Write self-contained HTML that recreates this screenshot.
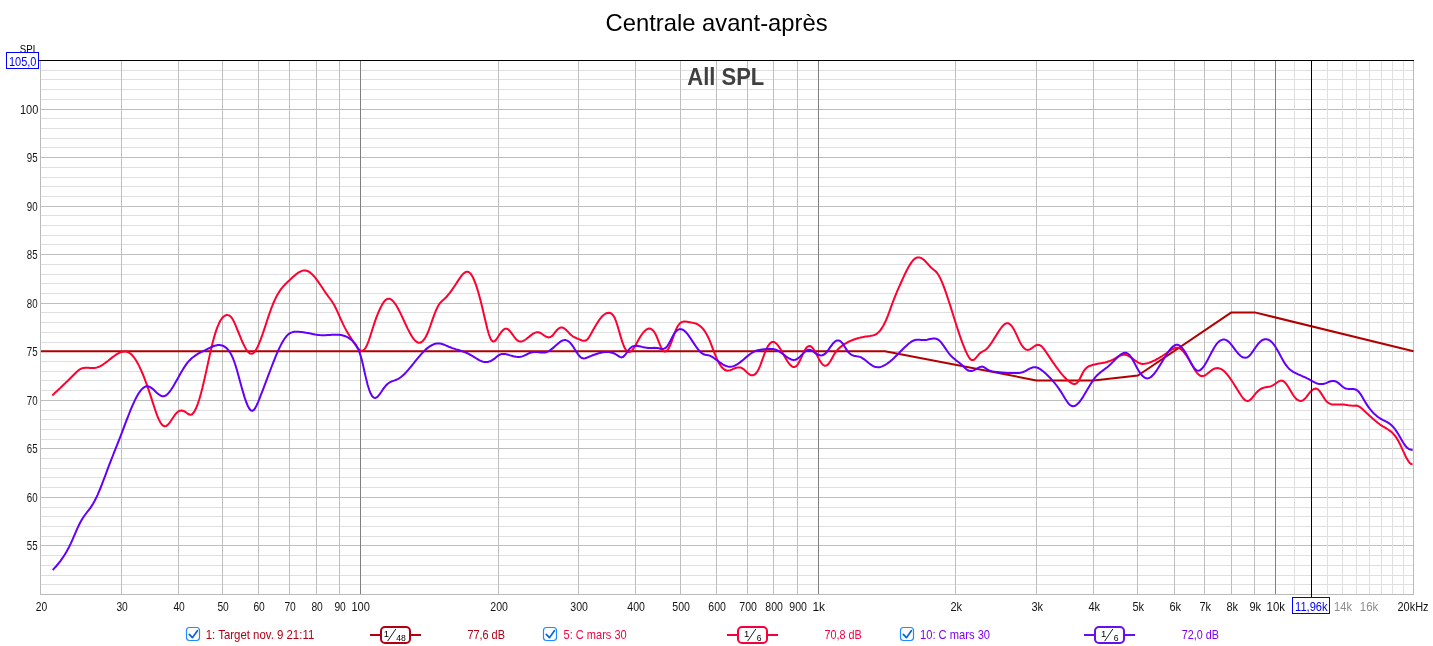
<!DOCTYPE html>
<html lang="fr"><head><meta charset="utf-8"><title>Centrale avant-après</title>
<style>html,body{margin:0;padding:0;background:#fff}body{width:1433px;height:646px;overflow:hidden}svg{display:block}text{font-family:"Liberation Sans", sans-serif}</style></head><body>
<svg width="1433" height="646" viewBox="0 0 1433 646">
<rect width="1433" height="646" fill="#fff"/>
<g shape-rendering="crispEdges"><line x1="41" x2="1414" y1="584.5" y2="584.5" stroke="#dfdfdf"/><line x1="41" x2="1414" y1="575.5" y2="575.5" stroke="#dfdfdf"/><line x1="41" x2="1414" y1="565.5" y2="565.5" stroke="#dfdfdf"/><line x1="41" x2="1414" y1="555.5" y2="555.5" stroke="#dfdfdf"/><line x1="41" x2="1414" y1="545.5" y2="545.5" stroke="#bebebe"/><line x1="41" x2="1414" y1="536.5" y2="536.5" stroke="#dfdfdf"/><line x1="41" x2="1414" y1="526.5" y2="526.5" stroke="#dfdfdf"/><line x1="41" x2="1414" y1="516.5" y2="516.5" stroke="#dfdfdf"/><line x1="41" x2="1414" y1="507.5" y2="507.5" stroke="#dfdfdf"/><line x1="41" x2="1414" y1="497.5" y2="497.5" stroke="#bebebe"/><line x1="41" x2="1414" y1="487.5" y2="487.5" stroke="#dfdfdf"/><line x1="41" x2="1414" y1="477.5" y2="477.5" stroke="#dfdfdf"/><line x1="41" x2="1414" y1="468.5" y2="468.5" stroke="#dfdfdf"/><line x1="41" x2="1414" y1="458.5" y2="458.5" stroke="#dfdfdf"/><line x1="41" x2="1414" y1="448.5" y2="448.5" stroke="#bebebe"/><line x1="41" x2="1414" y1="439.5" y2="439.5" stroke="#dfdfdf"/><line x1="41" x2="1414" y1="429.5" y2="429.5" stroke="#dfdfdf"/><line x1="41" x2="1414" y1="419.5" y2="419.5" stroke="#dfdfdf"/><line x1="41" x2="1414" y1="410.5" y2="410.5" stroke="#dfdfdf"/><line x1="41" x2="1414" y1="400.5" y2="400.5" stroke="#bebebe"/><line x1="41" x2="1414" y1="390.5" y2="390.5" stroke="#dfdfdf"/><line x1="41" x2="1414" y1="380.5" y2="380.5" stroke="#dfdfdf"/><line x1="41" x2="1414" y1="371.5" y2="371.5" stroke="#dfdfdf"/><line x1="41" x2="1414" y1="361.5" y2="361.5" stroke="#dfdfdf"/><line x1="41" x2="1414" y1="351.5" y2="351.5" stroke="#bebebe"/><line x1="41" x2="1414" y1="342.5" y2="342.5" stroke="#dfdfdf"/><line x1="41" x2="1414" y1="332.5" y2="332.5" stroke="#dfdfdf"/><line x1="41" x2="1414" y1="322.5" y2="322.5" stroke="#dfdfdf"/><line x1="41" x2="1414" y1="312.5" y2="312.5" stroke="#dfdfdf"/><line x1="41" x2="1414" y1="303.5" y2="303.5" stroke="#bebebe"/><line x1="41" x2="1414" y1="293.5" y2="293.5" stroke="#dfdfdf"/><line x1="41" x2="1414" y1="283.5" y2="283.5" stroke="#dfdfdf"/><line x1="41" x2="1414" y1="274.5" y2="274.5" stroke="#dfdfdf"/><line x1="41" x2="1414" y1="264.5" y2="264.5" stroke="#dfdfdf"/><line x1="41" x2="1414" y1="254.5" y2="254.5" stroke="#bebebe"/><line x1="41" x2="1414" y1="244.5" y2="244.5" stroke="#dfdfdf"/><line x1="41" x2="1414" y1="235.5" y2="235.5" stroke="#dfdfdf"/><line x1="41" x2="1414" y1="225.5" y2="225.5" stroke="#dfdfdf"/><line x1="41" x2="1414" y1="215.5" y2="215.5" stroke="#dfdfdf"/><line x1="41" x2="1414" y1="206.5" y2="206.5" stroke="#bebebe"/><line x1="41" x2="1414" y1="196.5" y2="196.5" stroke="#dfdfdf"/><line x1="41" x2="1414" y1="186.5" y2="186.5" stroke="#dfdfdf"/><line x1="41" x2="1414" y1="177.5" y2="177.5" stroke="#dfdfdf"/><line x1="41" x2="1414" y1="167.5" y2="167.5" stroke="#dfdfdf"/><line x1="41" x2="1414" y1="157.5" y2="157.5" stroke="#bebebe"/><line x1="41" x2="1414" y1="147.5" y2="147.5" stroke="#dfdfdf"/><line x1="41" x2="1414" y1="138.5" y2="138.5" stroke="#dfdfdf"/><line x1="41" x2="1414" y1="128.5" y2="128.5" stroke="#dfdfdf"/><line x1="41" x2="1414" y1="118.5" y2="118.5" stroke="#dfdfdf"/><line x1="41" x2="1414" y1="109.5" y2="109.5" stroke="#bebebe"/><line x1="41" x2="1414" y1="99.5" y2="99.5" stroke="#dfdfdf"/><line x1="41" x2="1414" y1="89.5" y2="89.5" stroke="#dfdfdf"/><line x1="41" x2="1414" y1="79.5" y2="79.5" stroke="#dfdfdf"/><line x1="41" x2="1414" y1="70.5" y2="70.5" stroke="#dfdfdf"/><line x1="121.5" x2="121.5" y1="61" y2="594" stroke="#bebebe"/><line x1="178.5" x2="178.5" y1="61" y2="594" stroke="#bebebe"/><line x1="222.5" x2="222.5" y1="61" y2="594" stroke="#bebebe"/><line x1="258.5" x2="258.5" y1="61" y2="594" stroke="#bebebe"/><line x1="289.5" x2="289.5" y1="61" y2="594" stroke="#bebebe"/><line x1="316.5" x2="316.5" y1="61" y2="594" stroke="#bebebe"/><line x1="339.5" x2="339.5" y1="61" y2="594" stroke="#bebebe"/><line x1="498.5" x2="498.5" y1="61" y2="594" stroke="#bebebe"/><line x1="578.5" x2="578.5" y1="61" y2="594" stroke="#bebebe"/><line x1="635.5" x2="635.5" y1="61" y2="594" stroke="#bebebe"/><line x1="680.5" x2="680.5" y1="61" y2="594" stroke="#bebebe"/><line x1="716.5" x2="716.5" y1="61" y2="594" stroke="#bebebe"/><line x1="747.5" x2="747.5" y1="61" y2="594" stroke="#bebebe"/><line x1="773.5" x2="773.5" y1="61" y2="594" stroke="#bebebe"/><line x1="797.5" x2="797.5" y1="61" y2="594" stroke="#bebebe"/><line x1="955.5" x2="955.5" y1="61" y2="594" stroke="#bebebe"/><line x1="1036.5" x2="1036.5" y1="61" y2="594" stroke="#bebebe"/><line x1="1093.5" x2="1093.5" y1="61" y2="594" stroke="#bebebe"/><line x1="1137.5" x2="1137.5" y1="61" y2="594" stroke="#bebebe"/><line x1="1174.5" x2="1174.5" y1="61" y2="594" stroke="#bebebe"/><line x1="1204.5" x2="1204.5" y1="61" y2="594" stroke="#bebebe"/><line x1="1231.5" x2="1231.5" y1="61" y2="594" stroke="#bebebe"/><line x1="1254.5" x2="1254.5" y1="61" y2="594" stroke="#bebebe"/><line x1="1294.5" x2="1294.5" y1="61" y2="594" stroke="#dfdfdf"/><line x1="1311.5" x2="1311.5" y1="61" y2="594" stroke="#dfdfdf"/><line x1="1327.5" x2="1327.5" y1="61" y2="594" stroke="#dfdfdf"/><line x1="1342.5" x2="1342.5" y1="61" y2="594" stroke="#dfdfdf"/><line x1="1356.5" x2="1356.5" y1="61" y2="594" stroke="#dfdfdf"/><line x1="1369.5" x2="1369.5" y1="61" y2="594" stroke="#dfdfdf"/><line x1="1381.5" x2="1381.5" y1="61" y2="594" stroke="#dfdfdf"/><line x1="1392.5" x2="1392.5" y1="61" y2="594" stroke="#dfdfdf"/><line x1="1403.5" x2="1403.5" y1="61" y2="594" stroke="#dfdfdf"/><line x1="360.5" x2="360.5" y1="61" y2="594" stroke="#808080"/><line x1="818.5" x2="818.5" y1="61" y2="594" stroke="#808080"/><line x1="1275.5" x2="1275.5" y1="61" y2="594" stroke="#808080"/><line x1="40.5" x2="40.5" y1="61" y2="595" stroke="#bababa"/><line x1="1413.5" x2="1413.5" y1="61" y2="595" stroke="#bababa"/><line x1="40" x2="1414" y1="594.5" y2="594.5" stroke="#bababa"/></g>
<g fill="none" stroke-width="2" stroke-linejoin="round" stroke-linecap="butt">
<path d="M41.0,351.2 884.9,351.2 1036.4,380.4 1093.6,380.4 1138.0,375.5 1231.4,312.4 1254.8,312.4 1413.5,351.2" stroke="#b00000"/>
<path d="M52.3,395.4 53.8,394.0 55.3,392.6 56.8,391.2 58.3,389.8 59.8,388.4 61.3,386.9 62.8,385.5 64.3,384.1 65.8,382.6 67.3,381.2 68.8,379.7 70.3,378.2 71.8,376.7 73.3,375.2 74.8,373.7 76.3,372.2 77.8,370.9 79.3,369.7 80.8,368.9 82.3,368.2 83.8,367.9 85.3,367.7 86.8,367.7 88.3,367.8 89.8,367.9 91.3,368.0 92.8,368.0 94.3,368.0 95.8,367.8 97.3,367.4 98.8,366.8 100.3,366.1 101.8,365.3 103.3,364.3 104.8,363.2 106.3,362.1 107.8,361.0 109.3,359.8 110.8,358.6 112.3,357.4 113.8,356.3 115.3,355.2 116.8,354.2 118.3,353.4 119.8,352.6 121.3,352.1 122.8,351.7 124.3,351.5 125.8,351.6 127.3,351.9 128.8,352.6 130.3,353.5 131.8,354.8 133.3,356.5 134.8,358.5 136.3,360.8 137.8,363.4 139.3,366.4 140.8,369.6 142.3,373.0 143.8,376.7 145.3,380.6 146.8,384.7 148.3,388.9 149.8,393.4 151.3,397.9 152.8,402.6 154.3,407.3 155.8,411.7 157.3,415.8 158.8,419.4 160.3,422.3 161.8,424.4 163.3,425.7 164.8,426.2 166.3,425.9 167.8,424.8 169.3,423.1 170.8,421.0 172.3,418.8 173.8,416.5 175.3,414.4 176.8,412.7 178.3,411.4 179.8,410.7 181.3,410.5 182.8,410.7 184.3,411.3 185.8,412.2 187.3,413.3 188.8,414.3 190.3,414.8 191.8,414.5 193.3,413.1 194.8,410.8 196.3,407.7 197.8,403.8 199.3,399.2 200.8,394.0 202.3,388.3 203.8,382.0 205.3,375.4 206.8,368.6 208.3,361.7 209.8,354.9 211.3,348.3 212.8,342.1 214.3,336.5 215.8,331.6 217.3,327.3 218.8,323.8 220.3,320.8 221.8,318.5 223.3,316.8 224.8,315.7 226.3,315.1 227.8,315.1 229.3,315.5 230.8,316.7 232.3,318.6 233.8,321.4 235.3,324.7 236.8,328.3 238.3,332.0 239.8,335.7 241.3,339.3 242.8,342.8 244.3,345.9 245.8,348.7 247.3,351.0 248.8,352.6 250.3,353.6 251.8,353.8 253.3,353.1 254.8,351.5 256.3,349.3 257.8,346.4 259.3,343.0 260.8,339.2 262.3,335.0 263.8,330.6 265.3,326.1 266.8,321.5 268.3,316.9 269.8,312.5 271.3,308.3 272.8,304.5 274.3,301.0 275.8,297.8 277.3,295.0 278.8,292.4 280.3,290.2 281.8,288.2 283.3,286.4 284.8,284.8 286.3,283.3 287.8,281.8 289.3,280.4 290.8,279.0 292.3,277.5 293.8,276.2 295.3,274.9 296.8,273.7 298.3,272.6 299.8,271.8 301.3,271.1 302.8,270.6 304.3,270.4 305.8,270.5 307.3,271.0 308.8,271.7 310.3,272.7 311.8,274.0 313.3,275.5 314.8,277.2 316.3,279.1 317.8,281.2 319.3,283.3 320.8,285.5 322.3,287.8 323.8,290.0 325.3,292.3 326.8,294.4 328.3,296.5 329.8,298.5 331.3,300.5 332.8,302.8 334.3,305.3 335.8,308.2 337.3,311.4 338.8,314.7 340.3,318.1 341.8,321.4 343.3,324.6 344.8,327.6 346.3,330.4 347.8,333.0 349.3,335.5 350.8,337.9 352.3,340.2 353.8,342.5 355.3,344.8 356.8,347.0 358.3,348.8 359.8,350.1 361.3,350.7 362.8,350.6 364.3,349.5 365.8,347.5 367.3,344.4 368.8,340.5 370.3,336.0 371.8,331.3 373.3,326.5 374.8,321.9 376.3,317.6 377.8,313.8 379.3,310.3 380.8,307.2 382.3,304.4 383.8,302.0 385.3,300.2 386.8,299.1 388.3,298.7 389.8,298.8 391.3,299.6 392.8,300.9 394.3,302.6 395.8,304.7 397.3,307.2 398.8,310.0 400.3,312.9 401.8,316.1 403.3,319.3 404.8,322.5 406.3,325.8 407.8,328.9 409.3,331.8 410.8,334.6 412.3,337.0 413.8,339.1 415.3,340.8 416.8,342.0 418.3,342.7 419.8,342.8 421.3,342.2 422.8,341.0 424.3,339.2 425.8,336.8 427.3,333.8 428.8,330.1 430.3,326.0 431.8,321.6 433.3,317.3 434.8,313.3 436.3,309.7 437.8,306.6 439.3,304.1 440.8,302.2 442.3,300.8 443.8,299.5 445.3,298.1 446.8,296.5 448.3,294.7 449.8,292.9 451.3,290.8 452.8,288.7 454.3,286.5 455.8,284.2 457.3,281.9 458.8,279.6 460.3,277.4 461.8,275.4 463.3,273.7 464.8,272.5 466.3,271.8 467.8,271.8 469.3,272.4 470.8,273.9 472.3,276.2 473.8,279.3 475.3,283.0 476.8,287.4 478.3,292.3 479.8,297.8 481.3,303.6 482.8,309.7 484.3,316.2 485.8,322.6 487.3,328.7 488.8,334.0 490.3,338.2 491.8,340.7 493.3,341.6 494.8,341.0 496.3,339.5 497.8,337.3 499.3,334.9 500.8,332.7 502.3,330.8 503.8,329.4 505.3,328.7 506.8,328.7 508.3,329.5 509.8,330.9 511.3,332.8 512.8,334.9 514.3,337.0 515.8,338.9 517.3,340.3 518.8,341.2 520.3,341.5 521.8,341.4 523.3,340.9 524.8,340.0 526.3,339.0 527.8,337.8 529.3,336.6 530.8,335.4 532.3,334.2 533.8,333.3 535.3,332.6 536.8,332.2 538.3,332.2 539.8,332.7 541.3,333.5 542.8,334.5 544.3,335.6 545.8,336.5 547.3,337.1 548.8,337.4 550.3,337.1 551.8,336.2 553.3,334.7 554.8,332.7 556.3,330.8 557.8,329.2 559.3,328.1 560.8,327.5 562.3,327.5 563.8,328.1 565.3,329.2 566.8,330.6 568.3,332.1 569.8,333.7 571.3,335.2 572.8,336.3 574.3,337.2 575.8,337.8 577.3,338.5 578.8,339.1 580.3,339.8 581.8,340.4 583.3,340.7 584.8,340.7 586.3,340.2 587.8,338.9 589.3,336.8 590.8,334.2 592.3,331.5 593.8,328.8 595.3,326.2 596.8,323.7 598.3,321.4 599.8,319.2 601.3,317.3 602.8,315.7 604.3,314.5 605.8,313.5 607.3,312.9 608.8,312.7 610.3,313.0 611.8,313.8 613.3,315.5 614.8,318.1 616.3,322.0 617.8,326.7 619.3,331.9 620.8,337.1 622.3,341.9 623.8,346.0 625.3,349.0 626.8,351.0 628.3,352.0 629.8,352.0 631.3,351.1 632.8,349.5 634.3,347.3 635.8,344.8 637.3,342.1 638.8,339.3 640.3,336.8 641.8,334.5 643.3,332.5 644.8,330.9 646.3,329.6 647.8,328.8 649.3,328.5 650.8,328.8 652.3,329.8 653.8,331.4 655.3,333.7 656.8,336.8 658.3,340.6 659.8,344.4 661.3,347.8 662.8,350.2 664.3,351.4 665.8,351.4 667.3,350.3 668.8,348.1 670.3,345.0 671.8,341.1 673.3,336.8 674.8,332.6 676.3,328.9 677.8,326.0 679.3,324.0 680.8,322.6 682.3,321.9 683.8,321.6 685.3,321.6 686.8,321.8 688.3,322.0 689.8,322.2 691.3,322.5 692.8,322.7 694.3,323.1 695.8,323.5 697.3,324.2 698.8,325.1 700.3,326.2 701.8,327.5 703.3,329.2 704.8,331.3 706.3,333.7 707.8,336.5 709.3,339.7 710.8,343.4 712.3,347.3 713.8,351.3 715.3,355.2 716.8,358.7 718.3,361.7 719.8,364.4 721.3,366.5 722.8,368.3 724.3,369.5 725.8,370.3 727.3,370.7 728.8,370.6 730.3,370.2 731.8,369.6 733.3,368.9 734.8,368.3 736.3,367.8 737.8,367.4 739.3,367.4 740.8,367.6 742.3,368.3 743.8,369.3 745.3,370.7 746.8,372.2 748.3,373.5 749.8,374.6 751.3,375.3 752.8,375.3 754.3,374.8 755.8,373.6 757.3,371.7 758.8,368.9 760.3,365.3 761.8,361.2 763.3,357.0 764.8,352.9 766.3,349.3 767.8,346.4 769.3,344.2 770.8,342.7 772.3,341.9 773.8,341.9 775.3,342.7 776.8,344.0 778.3,345.9 779.8,348.1 781.3,350.6 782.8,353.2 784.3,355.9 785.8,358.6 787.3,361.0 788.8,363.2 790.3,365.0 791.8,366.3 793.3,367.0 794.8,366.9 796.3,366.1 797.8,364.3 799.3,361.7 800.8,358.6 802.3,355.3 803.8,352.1 805.3,349.4 806.8,347.3 808.3,346.2 809.8,346.0 811.3,346.7 812.8,348.2 814.3,350.4 815.8,353.0 817.3,355.9 818.8,358.8 820.3,361.4 821.8,363.6 823.3,365.1 824.8,365.7 826.3,365.6 827.8,364.6 829.3,362.8 830.8,360.5 832.3,357.8 833.8,355.0 835.3,352.6 836.8,350.6 838.3,349.0 839.8,347.6 841.3,346.4 842.8,345.2 844.3,344.2 845.8,343.3 847.3,342.5 848.8,341.7 850.3,341.0 851.8,340.4 853.3,339.8 854.8,339.2 856.3,338.7 857.8,338.3 859.3,337.9 860.8,337.5 862.3,337.2 863.8,336.9 865.3,336.6 866.8,336.4 868.3,336.2 869.8,336.0 871.3,335.7 872.8,335.4 874.3,335.0 875.8,334.3 877.3,333.3 878.8,332.0 880.3,330.3 881.8,328.2 883.3,325.7 884.8,322.8 886.3,319.5 887.8,315.8 889.3,311.8 890.8,307.6 892.3,303.5 893.8,299.6 895.3,295.8 896.8,292.2 898.3,288.7 899.8,285.3 901.3,282.0 902.8,278.6 904.3,275.4 905.8,272.3 907.3,269.3 908.8,266.5 910.3,264.1 911.8,261.9 913.3,260.1 914.8,258.7 916.3,257.8 917.8,257.4 919.3,257.4 920.8,257.9 922.3,258.7 923.8,259.8 925.3,261.3 926.8,262.9 928.3,264.5 929.8,266.2 931.3,267.7 932.8,269.0 934.3,270.2 935.8,271.5 937.3,273.2 938.8,275.5 940.3,278.4 941.8,281.7 943.3,285.4 944.8,289.4 946.3,293.7 947.8,298.2 949.3,302.8 950.8,307.4 952.3,312.2 953.8,317.0 955.3,321.8 956.8,326.5 958.3,331.1 959.8,335.6 961.3,339.8 962.8,343.9 964.3,347.7 965.8,351.3 967.3,354.4 968.8,357.1 970.3,359.1 971.8,360.1 973.3,360.1 974.8,359.0 976.3,357.4 977.8,355.6 979.3,353.8 980.8,352.6 982.3,351.7 983.8,350.9 985.3,350.0 986.8,348.7 988.3,347.1 989.8,345.2 991.3,343.1 992.8,340.8 994.3,338.4 995.8,336.0 997.3,333.6 998.8,331.3 1000.3,329.0 1001.8,327.0 1003.3,325.3 1004.8,324.1 1006.3,323.3 1007.8,323.2 1009.3,323.8 1010.8,325.0 1012.3,326.8 1013.8,329.2 1015.3,332.1 1016.8,335.3 1018.3,338.7 1019.8,341.9 1021.3,344.6 1022.8,346.8 1024.3,348.4 1025.8,349.5 1027.3,349.9 1028.8,349.8 1030.3,349.1 1031.8,348.1 1033.3,347.0 1034.8,346.0 1036.3,345.2 1037.8,344.8 1039.3,344.9 1040.8,345.8 1042.3,347.1 1043.8,348.8 1045.3,350.9 1046.8,353.1 1048.3,355.4 1049.8,357.6 1051.3,359.9 1052.8,362.1 1054.3,364.2 1055.8,366.4 1057.3,368.4 1058.8,370.4 1060.3,372.3 1061.8,374.1 1063.3,375.9 1064.8,377.5 1066.3,379.0 1067.8,380.3 1069.3,381.6 1070.8,382.7 1072.3,383.5 1073.8,384.0 1075.3,383.9 1076.8,383.1 1078.3,381.4 1079.8,378.8 1081.3,375.7 1082.8,372.7 1084.3,370.3 1085.8,368.5 1087.3,367.2 1088.8,366.3 1090.3,365.7 1091.8,365.2 1093.3,364.7 1094.8,364.4 1096.3,364.1 1097.8,363.8 1099.3,363.5 1100.8,363.2 1102.3,363.0 1103.8,362.7 1105.3,362.4 1106.8,362.0 1108.3,361.5 1109.8,361.0 1111.3,360.4 1112.8,359.7 1114.3,358.9 1115.8,358.0 1117.3,357.1 1118.8,356.3 1120.3,355.6 1121.8,355.1 1123.3,354.8 1124.8,354.8 1126.3,355.1 1127.8,355.6 1129.3,356.4 1130.8,357.3 1132.3,358.4 1133.8,359.5 1135.3,360.7 1136.8,361.7 1138.3,362.6 1139.8,363.3 1141.3,363.7 1142.8,363.9 1144.3,363.8 1145.8,363.6 1147.3,363.3 1148.8,362.9 1150.3,362.3 1151.8,361.7 1153.3,361.0 1154.8,360.3 1156.3,359.5 1157.8,358.7 1159.3,357.8 1160.8,356.9 1162.3,356.0 1163.8,355.0 1165.3,354.0 1166.8,353.0 1168.3,351.9 1169.8,350.9 1171.3,349.9 1172.8,349.0 1174.3,348.3 1175.8,347.8 1177.3,347.7 1178.8,348.0 1180.3,348.7 1181.8,349.9 1183.3,351.5 1184.8,353.4 1186.3,355.5 1187.8,357.8 1189.3,360.3 1190.8,362.9 1192.3,365.5 1193.8,368.1 1195.3,370.4 1196.8,372.6 1198.3,374.3 1199.8,375.5 1201.3,376.1 1202.8,376.1 1204.3,375.7 1205.8,374.8 1207.3,373.7 1208.8,372.5 1210.3,371.2 1211.8,370.1 1213.3,369.2 1214.8,368.5 1216.3,368.2 1217.8,368.1 1219.3,368.4 1220.8,368.9 1222.3,369.8 1223.8,370.9 1225.3,372.3 1226.8,374.0 1228.3,375.8 1229.8,377.9 1231.3,380.1 1232.8,382.3 1234.3,384.7 1235.8,387.1 1237.3,389.5 1238.8,391.9 1240.3,394.3 1241.8,396.5 1243.3,398.4 1244.8,399.8 1246.3,400.8 1247.8,401.0 1249.3,400.5 1250.8,399.3 1252.3,397.7 1253.8,395.9 1255.3,393.9 1256.8,392.2 1258.3,390.7 1259.8,389.6 1261.3,388.7 1262.8,388.0 1264.3,387.6 1265.8,387.3 1267.3,387.0 1268.8,386.7 1270.3,386.4 1271.8,385.9 1273.3,385.1 1274.8,384.2 1276.3,383.0 1277.8,382.0 1279.3,381.1 1280.8,380.6 1282.3,380.7 1283.8,381.5 1285.3,382.8 1286.8,384.7 1288.3,387.0 1289.8,389.5 1291.3,392.0 1292.8,394.5 1294.3,396.7 1295.8,398.4 1297.3,399.7 1298.8,400.6 1300.3,400.9 1301.8,400.8 1303.3,400.1 1304.8,398.8 1306.3,397.1 1307.8,395.1 1309.3,393.2 1310.8,391.4 1312.3,390.0 1313.8,389.0 1315.3,388.6 1316.8,388.8 1318.3,389.7 1319.8,391.4 1321.3,393.6 1322.8,396.0 1324.3,398.4 1325.8,400.5 1327.3,402.0 1328.8,403.2 1330.3,403.9 1331.8,404.4 1333.3,404.6 1334.8,404.6 1336.3,404.6 1337.8,404.6 1339.3,404.5 1340.8,404.5 1342.3,404.5 1343.8,404.5 1345.3,404.7 1346.8,404.9 1348.3,405.2 1349.8,405.4 1351.3,405.6 1352.8,405.7 1354.3,405.7 1355.8,405.6 1357.3,405.8 1358.8,406.4 1360.3,407.3 1361.8,408.5 1363.3,409.9 1364.8,411.3 1366.3,412.7 1367.8,414.1 1369.3,415.5 1370.8,416.8 1372.3,418.2 1373.8,419.5 1375.3,420.8 1376.8,422.0 1378.3,423.2 1379.8,424.3 1381.3,425.3 1382.8,426.3 1384.3,427.2 1385.8,428.1 1387.3,429.0 1388.8,430.0 1390.3,431.1 1391.8,432.3 1393.3,433.8 1394.8,435.6 1396.3,437.6 1397.8,440.0 1399.3,442.7 1400.8,445.8 1402.3,449.1 1403.8,452.4 1405.3,455.7 1406.8,458.6 1408.3,461.1 1409.8,463.0 1411.3,464.1 1412.6,464.2" stroke="#ff0030"/>
<path d="M52.7,570.0 54.2,568.4 55.7,566.8 57.2,565.0 58.7,563.2 60.2,561.3 61.7,559.2 63.2,557.0 64.7,554.7 66.2,552.2 67.7,549.5 69.2,546.7 70.7,543.6 72.2,540.3 73.7,536.9 75.2,533.4 76.7,529.9 78.2,526.6 79.7,523.5 81.2,520.7 82.7,518.2 84.2,516.0 85.7,514.0 87.2,512.0 88.7,510.1 90.2,508.1 91.7,505.9 93.2,503.5 94.7,500.8 96.2,497.8 97.7,494.6 99.2,491.1 100.7,487.5 102.2,483.7 103.7,479.7 105.2,475.8 106.7,471.7 108.2,467.7 109.7,463.7 111.2,459.8 112.7,456.0 114.2,452.2 115.7,448.4 117.2,444.6 118.7,440.9 120.2,437.0 121.7,433.1 123.2,429.2 124.7,425.2 126.2,421.2 127.7,417.3 129.2,413.5 130.7,409.7 132.2,406.2 133.7,402.8 135.2,399.6 136.7,396.7 138.2,394.1 139.7,391.8 141.2,389.9 142.7,388.4 144.2,387.2 145.7,386.5 147.2,386.2 148.7,386.4 150.2,387.1 151.7,388.1 153.2,389.3 154.7,390.7 156.2,392.2 157.7,393.5 159.2,394.7 160.7,395.6 162.2,396.2 163.7,396.3 165.2,395.8 166.7,394.8 168.2,393.4 169.7,391.6 171.2,389.5 172.7,387.2 174.2,384.7 175.7,382.1 177.2,379.4 178.7,376.7 180.2,374.1 181.7,371.4 183.2,368.9 184.7,366.6 186.2,364.4 187.7,362.4 189.2,360.7 190.7,359.2 192.2,357.8 193.7,356.7 195.2,355.6 196.7,354.6 198.2,353.7 199.7,352.9 201.2,352.1 202.7,351.4 204.2,350.7 205.7,349.9 207.2,349.2 208.7,348.4 210.2,347.7 211.7,347.0 213.2,346.3 214.7,345.8 216.2,345.4 217.7,345.1 219.2,345.0 220.7,345.2 222.2,345.5 223.7,346.2 225.2,347.1 226.7,348.3 228.2,349.9 229.7,351.9 231.2,354.5 232.7,357.6 234.2,361.5 235.7,366.0 237.2,371.0 238.7,376.4 240.2,381.9 241.7,387.4 243.2,392.6 244.7,397.6 246.2,402.0 247.7,405.7 249.2,408.5 250.7,410.3 252.2,410.9 253.7,410.1 255.2,408.1 256.7,405.2 258.2,401.8 259.7,398.1 261.2,394.2 262.7,390.3 264.2,386.4 265.7,382.4 267.2,378.4 268.7,374.4 270.2,370.5 271.7,366.5 273.2,362.7 274.7,358.9 276.2,355.2 277.7,351.7 279.2,348.4 280.7,345.4 282.2,342.5 283.7,340.0 285.2,337.8 286.7,335.9 288.2,334.4 289.7,333.4 291.2,332.6 292.7,332.1 294.2,331.8 295.7,331.7 297.2,331.7 298.7,331.8 300.2,331.9 301.7,332.1 303.2,332.3 304.7,332.5 306.2,332.8 307.7,333.0 309.2,333.3 310.7,333.6 312.2,333.9 313.7,334.2 315.2,334.5 316.7,334.7 318.2,334.9 319.7,335.1 321.2,335.2 322.7,335.2 324.2,335.2 325.7,335.2 327.2,335.1 328.7,335.0 330.2,334.9 331.7,334.8 333.2,334.7 334.7,334.7 336.2,334.7 337.7,334.7 339.2,334.8 340.7,335.0 342.2,335.3 343.7,335.7 345.2,336.2 346.7,336.9 348.2,337.6 349.7,338.6 351.2,339.8 352.7,341.1 354.2,342.7 355.7,344.6 357.2,347.0 358.7,350.2 360.2,354.4 361.7,359.6 363.2,365.8 364.7,372.6 366.2,379.1 367.7,385.0 369.2,389.8 370.7,393.6 372.2,396.2 373.7,397.6 375.2,398.0 376.7,397.4 378.2,396.0 379.7,394.1 381.2,392.0 382.7,389.7 384.2,387.6 385.7,385.8 387.2,384.2 388.7,383.0 390.2,382.1 391.7,381.4 393.2,380.9 394.7,380.4 396.2,379.8 397.7,379.1 399.2,378.3 400.7,377.2 402.2,376.0 403.7,374.7 405.2,373.2 406.7,371.6 408.2,369.9 409.7,368.1 411.2,366.3 412.7,364.5 414.2,362.6 415.7,360.7 417.2,358.9 418.7,357.1 420.2,355.3 421.7,353.6 423.2,352.0 424.7,350.5 426.2,349.1 427.7,347.9 429.2,346.7 430.7,345.8 432.2,345.0 433.7,344.3 435.2,343.8 436.7,343.5 438.2,343.4 439.7,343.5 441.2,343.8 442.7,344.2 444.2,344.7 445.7,345.4 447.2,346.0 448.7,346.7 450.2,347.3 451.7,347.9 453.2,348.4 454.7,348.9 456.2,349.4 457.7,349.8 459.2,350.3 460.7,350.8 462.2,351.3 463.7,351.8 465.2,352.4 466.7,353.0 468.2,353.7 469.7,354.5 471.2,355.3 472.7,356.2 474.2,357.1 475.7,358.0 477.2,359.0 478.7,359.8 480.2,360.6 481.7,361.3 483.2,361.7 484.7,362.0 486.2,362.1 487.7,361.9 489.2,361.6 490.7,361.0 492.2,360.2 493.7,359.2 495.2,358.1 496.7,356.8 498.2,355.6 499.7,354.7 501.2,354.1 502.7,353.9 504.2,353.9 505.7,354.1 507.2,354.5 508.7,354.9 510.2,355.4 511.7,355.8 513.2,356.2 514.7,356.6 516.2,356.8 517.7,356.9 519.2,356.9 520.7,356.8 522.2,356.4 523.7,355.9 525.2,355.2 526.7,354.5 528.2,353.7 529.7,353.0 531.2,352.5 532.7,352.2 534.2,352.0 535.7,352.0 537.2,352.1 538.7,352.3 540.2,352.5 541.7,352.6 543.2,352.6 544.7,352.5 546.2,352.2 547.7,351.6 549.2,350.8 550.7,349.8 552.2,348.6 553.7,347.4 555.2,346.0 556.7,344.7 558.2,343.4 559.7,342.2 561.2,341.2 562.7,340.5 564.2,340.1 565.7,340.1 567.2,340.6 568.7,341.5 570.2,342.8 571.7,344.6 573.2,346.8 574.7,349.2 576.2,351.6 577.7,353.8 579.2,355.8 580.7,357.3 582.2,358.1 583.7,358.4 585.2,358.2 586.7,357.7 588.2,357.1 589.7,356.5 591.2,355.9 592.7,355.3 594.2,354.7 595.7,354.2 597.2,353.7 598.7,353.3 600.2,352.9 601.7,352.6 603.2,352.3 604.7,352.1 606.2,352.0 607.7,352.0 609.2,352.1 610.7,352.4 612.2,352.7 613.7,353.2 615.2,354.0 616.7,354.9 618.2,355.9 619.7,356.9 621.2,357.4 622.7,357.1 624.2,355.9 625.7,354.1 627.2,352.0 628.7,349.9 630.2,348.2 631.7,346.9 633.2,346.2 634.7,345.9 636.2,345.8 637.7,345.9 639.2,346.2 640.7,346.5 642.2,346.9 643.7,347.2 645.2,347.6 646.7,347.8 648.2,348.0 649.7,348.0 651.2,348.0 652.7,347.9 654.2,347.8 655.7,347.9 657.2,348.0 658.7,348.3 660.2,348.7 661.7,348.9 663.2,348.9 664.7,348.4 666.2,347.4 667.7,345.6 669.2,343.1 670.7,340.2 672.2,337.2 673.7,334.4 675.2,332.2 676.7,330.7 678.2,329.6 679.7,329.1 681.2,329.2 682.7,329.7 684.2,330.6 685.7,332.0 687.2,333.7 688.7,335.7 690.2,337.8 691.7,340.1 693.2,342.4 694.7,344.6 696.2,346.8 697.7,348.8 699.2,350.6 700.7,352.2 702.2,353.4 703.7,354.3 705.2,354.8 706.7,355.0 708.2,355.2 709.7,355.6 711.2,356.3 712.7,357.2 714.2,358.3 715.7,359.4 717.2,360.5 718.7,361.6 720.2,362.7 721.7,363.7 723.2,364.6 724.7,365.4 726.2,366.0 727.7,366.4 729.2,366.7 730.7,366.7 732.2,366.5 733.7,366.1 735.2,365.4 736.7,364.6 738.2,363.7 739.7,362.6 741.2,361.4 742.7,360.2 744.2,358.9 745.7,357.6 747.2,356.4 748.7,355.1 750.2,354.0 751.7,353.0 753.2,352.1 754.7,351.4 756.2,350.8 757.7,350.3 759.2,350.0 760.7,349.7 762.2,349.5 763.7,349.3 765.2,349.2 766.7,349.1 768.2,349.0 769.7,349.0 771.2,349.0 772.7,349.1 774.2,349.3 775.7,349.7 777.2,350.3 778.7,351.1 780.2,352.1 781.7,353.1 783.2,354.3 784.7,355.4 786.2,356.6 787.7,357.6 789.2,358.5 790.7,359.2 792.2,359.7 793.7,359.9 795.2,359.7 796.7,359.2 798.2,358.2 799.7,356.9 801.2,355.4 802.7,353.9 804.2,352.4 805.7,351.1 807.2,350.2 808.7,349.8 810.2,349.9 811.7,350.6 813.2,351.5 814.7,352.6 816.2,353.7 817.7,354.5 819.2,355.1 820.7,355.4 822.2,355.3 823.7,354.7 825.2,353.7 826.7,352.1 828.2,350.1 829.7,347.9 831.2,345.8 832.7,343.8 834.2,342.2 835.7,341.0 837.2,340.4 838.7,340.4 840.2,341.1 841.7,342.4 843.2,344.4 844.7,346.8 846.2,349.1 847.7,351.3 849.2,353.0 850.7,354.3 852.2,355.1 853.7,355.7 855.2,356.0 856.7,356.3 858.2,356.5 859.7,356.9 861.2,357.4 862.7,358.3 864.2,359.3 865.7,360.5 867.2,361.7 868.7,363.0 870.2,364.2 871.7,365.2 873.2,366.1 874.7,366.7 876.2,367.1 877.7,367.3 879.2,367.2 880.7,366.9 882.2,366.4 883.7,365.7 885.2,364.9 886.7,364.0 888.2,362.9 889.7,361.8 891.2,360.5 892.7,359.2 894.2,357.8 895.7,356.3 897.2,354.9 898.7,353.4 900.2,351.8 901.7,350.3 903.2,348.8 904.7,347.3 906.2,345.9 907.7,344.5 909.2,343.3 910.7,342.2 912.2,341.2 913.7,340.5 915.2,340.0 916.7,339.8 918.2,339.7 919.7,339.8 921.2,339.9 922.7,340.0 924.2,340.0 925.7,339.9 927.2,339.7 928.7,339.3 930.2,339.0 931.7,338.7 933.2,338.5 934.7,338.5 936.2,338.8 937.7,339.4 939.2,340.4 940.7,341.9 942.2,343.8 943.7,345.9 945.2,348.1 946.7,350.3 948.2,352.5 949.7,354.4 951.2,356.1 952.7,357.5 954.2,358.8 955.7,360.1 957.2,361.2 958.7,362.3 960.2,363.5 961.7,364.8 963.2,366.3 964.7,367.7 966.2,369.1 967.7,370.2 969.2,370.8 970.7,371.1 972.2,370.9 973.7,370.4 975.2,369.7 976.7,368.8 978.2,367.8 979.7,367.1 981.2,366.6 982.7,366.7 984.2,367.4 985.7,368.4 987.2,369.4 988.7,370.2 990.2,370.8 991.7,371.2 993.2,371.5 994.7,371.7 996.2,372.0 997.7,372.1 999.2,372.3 1000.7,372.5 1002.2,372.6 1003.7,372.7 1005.2,372.8 1006.7,372.9 1008.2,373.0 1009.7,373.0 1011.2,373.0 1012.7,373.1 1014.2,373.1 1015.7,373.1 1017.2,373.0 1018.7,372.9 1020.2,372.7 1021.7,372.4 1023.2,372.0 1024.7,371.3 1026.2,370.6 1027.7,369.7 1029.2,368.9 1030.7,368.2 1032.2,367.6 1033.7,367.3 1035.2,367.2 1036.7,367.5 1038.2,368.0 1039.7,368.8 1041.2,369.9 1042.7,371.0 1044.2,372.3 1045.7,373.6 1047.2,375.0 1048.7,376.5 1050.2,378.0 1051.7,379.6 1053.2,381.3 1054.7,383.1 1056.2,385.0 1057.7,387.0 1059.2,389.1 1060.7,391.4 1062.2,393.7 1063.7,396.2 1065.2,398.7 1066.7,401.0 1068.2,403.1 1069.7,404.7 1071.2,405.8 1072.7,406.3 1074.2,406.1 1075.7,405.5 1077.2,404.3 1078.7,402.8 1080.2,401.0 1081.7,398.9 1083.2,396.6 1084.7,394.1 1086.2,391.6 1087.7,389.0 1089.2,386.5 1090.7,384.0 1092.2,381.6 1093.7,379.4 1095.2,377.4 1096.7,375.7 1098.2,374.2 1099.7,372.9 1101.2,371.7 1102.7,370.6 1104.2,369.5 1105.7,368.4 1107.2,367.3 1108.7,366.0 1110.2,364.6 1111.7,363.1 1113.2,361.6 1114.7,360.0 1116.2,358.5 1117.7,357.0 1119.2,355.7 1120.7,354.5 1122.2,353.6 1123.7,353.0 1125.2,352.8 1126.7,353.1 1128.2,353.9 1129.7,355.3 1131.2,357.3 1132.7,359.7 1134.2,362.5 1135.7,365.4 1137.2,368.2 1138.7,370.8 1140.2,373.1 1141.7,375.0 1143.2,376.5 1144.7,377.6 1146.2,378.3 1147.7,378.4 1149.2,378.0 1150.7,377.1 1152.2,375.9 1153.7,374.3 1155.2,372.4 1156.7,370.3 1158.2,368.0 1159.7,365.6 1161.2,363.2 1162.7,360.7 1164.2,358.2 1165.7,355.8 1167.2,353.5 1168.7,351.4 1170.2,349.4 1171.7,347.7 1173.2,346.3 1174.7,345.3 1176.2,344.8 1177.7,344.8 1179.2,345.4 1180.7,346.5 1182.2,348.0 1183.7,350.0 1185.2,352.3 1186.7,354.8 1188.2,357.6 1189.7,360.4 1191.2,363.2 1192.7,365.8 1194.2,368.1 1195.7,369.7 1197.2,370.6 1198.7,370.7 1200.2,370.1 1201.7,368.9 1203.2,367.2 1204.7,365.0 1206.2,362.5 1207.7,359.8 1209.2,356.9 1210.7,354.0 1212.2,351.2 1213.7,348.5 1215.2,346.0 1216.7,343.9 1218.2,342.2 1219.7,340.9 1221.2,340.1 1222.7,339.6 1224.2,339.5 1225.7,339.9 1227.2,340.6 1228.7,341.8 1230.2,343.3 1231.7,345.1 1233.2,347.1 1234.7,349.1 1236.2,351.1 1237.7,353.0 1239.2,354.6 1240.7,356.0 1242.2,357.0 1243.7,357.6 1245.2,357.8 1246.7,357.5 1248.2,356.8 1249.7,355.5 1251.2,353.7 1252.7,351.6 1254.2,349.4 1255.7,347.2 1257.2,345.1 1258.7,343.2 1260.2,341.7 1261.7,340.5 1263.2,339.7 1264.7,339.3 1266.2,339.2 1267.7,339.5 1269.2,340.2 1270.7,341.2 1272.2,342.6 1273.7,344.3 1275.2,346.4 1276.7,348.9 1278.2,351.5 1279.7,354.3 1281.2,357.1 1282.7,359.8 1284.2,362.4 1285.7,364.7 1287.2,366.7 1288.7,368.4 1290.2,369.7 1291.7,370.8 1293.2,371.8 1294.7,372.6 1296.2,373.3 1297.7,374.1 1299.2,374.8 1300.7,375.4 1302.2,376.1 1303.7,376.8 1305.2,377.4 1306.7,378.2 1308.2,378.9 1309.7,379.7 1311.2,380.5 1312.7,381.4 1314.2,382.2 1315.7,382.9 1317.2,383.5 1318.7,383.9 1320.2,384.1 1321.7,384.1 1323.2,383.9 1324.7,383.6 1326.2,383.1 1327.7,382.4 1329.2,381.8 1330.7,381.3 1332.2,381.1 1333.7,381.0 1335.2,381.3 1336.7,381.9 1338.2,382.9 1339.7,384.1 1341.2,385.4 1342.7,386.7 1344.2,387.8 1345.7,388.5 1347.2,388.8 1348.7,389.0 1350.2,389.0 1351.7,389.0 1353.2,389.0 1354.7,389.2 1356.2,389.8 1357.7,390.7 1359.2,392.3 1360.7,394.4 1362.2,396.8 1363.7,399.4 1365.2,402.0 1366.7,404.4 1368.2,406.6 1369.7,408.6 1371.2,410.5 1372.7,412.2 1374.2,413.7 1375.7,415.1 1377.2,416.4 1378.7,417.5 1380.2,418.5 1381.7,419.3 1383.2,420.1 1384.7,420.8 1386.2,421.6 1387.7,422.4 1389.2,423.4 1390.7,424.5 1392.2,425.9 1393.7,427.5 1395.2,429.4 1396.7,431.6 1398.2,434.0 1399.7,436.6 1401.2,439.2 1402.7,441.8 1404.2,444.2 1405.7,446.3 1407.2,447.8 1408.7,448.9 1410.2,449.5 1411.7,449.9 1412.6,450.2" stroke="#6400fa"/>
</g>
<g shape-rendering="crispEdges"><line x1="1311.5" x2="1311.5" y1="60" y2="597" stroke="#000"/>
<line x1="39" x2="1414" y1="60.5" y2="60.5" stroke="#000"/></g>
<text x="19.80" y="52.8" font-size="10.8" fill="#000" textLength="18.28" lengthAdjust="spacingAndGlyphs">SPL</text>
<g shape-rendering="crispEdges" fill="#fff" stroke="#0000ff"><rect x="6.5" y="52.5" width="32" height="16"/><rect x="1292.5" y="597.5" width="37" height="16"/></g>
<text x="605.51" y="30.5" font-size="24" fill="#000" textLength="222.11" lengthAdjust="spacingAndGlyphs">Centrale avant-après</text>
<text x="687.30" y="85.3" font-size="24" font-weight="bold" fill="#404040" textLength="77.01" lengthAdjust="spacingAndGlyphs">All SPL</text>
<text x="8.93" y="66.0" font-size="12.6" fill="#0000ff" textLength="27.52" lengthAdjust="spacingAndGlyphs">105,0</text>
<text x="26.80" y="550.0" font-size="12.6" fill="#141414" textLength="10.81" lengthAdjust="spacingAndGlyphs">55</text>
<text x="26.80" y="502.0" font-size="12.6" fill="#141414" textLength="10.81" lengthAdjust="spacingAndGlyphs">60</text>
<text x="26.80" y="453.0" font-size="12.6" fill="#141414" textLength="10.81" lengthAdjust="spacingAndGlyphs">65</text>
<text x="26.80" y="405.0" font-size="12.6" fill="#141414" textLength="10.81" lengthAdjust="spacingAndGlyphs">70</text>
<text x="26.80" y="356.0" font-size="12.6" fill="#141414" textLength="10.81" lengthAdjust="spacingAndGlyphs">75</text>
<text x="26.80" y="308.0" font-size="12.6" fill="#141414" textLength="10.81" lengthAdjust="spacingAndGlyphs">80</text>
<text x="26.80" y="259.0" font-size="12.6" fill="#141414" textLength="10.81" lengthAdjust="spacingAndGlyphs">85</text>
<text x="26.80" y="211.0" font-size="12.6" fill="#141414" textLength="10.81" lengthAdjust="spacingAndGlyphs">90</text>
<text x="26.80" y="162.0" font-size="12.6" fill="#141414" textLength="10.81" lengthAdjust="spacingAndGlyphs">95</text>
<text x="19.93" y="114.0" font-size="12.6" fill="#141414" textLength="18.39" lengthAdjust="spacingAndGlyphs">100</text>
<text x="35.80" y="611.0" font-size="12.6" fill="#141414" textLength="11.41" lengthAdjust="spacingAndGlyphs">20</text>
<text x="116.40" y="611.0" font-size="12.6" fill="#141414" textLength="11.41" lengthAdjust="spacingAndGlyphs">30</text>
<text x="173.40" y="611.0" font-size="12.6" fill="#141414" textLength="11.41" lengthAdjust="spacingAndGlyphs">40</text>
<text x="217.40" y="611.0" font-size="12.6" fill="#141414" textLength="11.41" lengthAdjust="spacingAndGlyphs">50</text>
<text x="253.40" y="611.0" font-size="12.6" fill="#141414" textLength="11.41" lengthAdjust="spacingAndGlyphs">60</text>
<text x="284.40" y="611.0" font-size="12.6" fill="#141414" textLength="11.41" lengthAdjust="spacingAndGlyphs">70</text>
<text x="311.40" y="611.0" font-size="12.6" fill="#141414" textLength="11.41" lengthAdjust="spacingAndGlyphs">80</text>
<text x="334.40" y="611.0" font-size="12.6" fill="#141414" textLength="11.41" lengthAdjust="spacingAndGlyphs">90</text>
<text x="351.42" y="611.0" font-size="12.6" fill="#141414" textLength="18.49" lengthAdjust="spacingAndGlyphs">100</text>
<text x="490.30" y="611.0" font-size="12.6" fill="#141414" textLength="17.61" lengthAdjust="spacingAndGlyphs">200</text>
<text x="570.30" y="611.0" font-size="12.6" fill="#141414" textLength="17.61" lengthAdjust="spacingAndGlyphs">300</text>
<text x="627.30" y="611.0" font-size="12.6" fill="#141414" textLength="17.61" lengthAdjust="spacingAndGlyphs">400</text>
<text x="672.30" y="611.0" font-size="12.6" fill="#141414" textLength="17.61" lengthAdjust="spacingAndGlyphs">500</text>
<text x="708.30" y="611.0" font-size="12.6" fill="#141414" textLength="17.61" lengthAdjust="spacingAndGlyphs">600</text>
<text x="739.30" y="611.0" font-size="12.6" fill="#141414" textLength="17.61" lengthAdjust="spacingAndGlyphs">700</text>
<text x="765.30" y="611.0" font-size="12.6" fill="#141414" textLength="17.61" lengthAdjust="spacingAndGlyphs">800</text>
<text x="789.30" y="611.0" font-size="12.6" fill="#141414" textLength="17.61" lengthAdjust="spacingAndGlyphs">900</text>
<text x="812.45" y="611.0" font-size="12.6" fill="#141414" textLength="12.65" lengthAdjust="spacingAndGlyphs">1k</text>
<text x="950.40" y="611.0" font-size="12.6" fill="#141414" textLength="11.67" lengthAdjust="spacingAndGlyphs">2k</text>
<text x="1031.40" y="611.0" font-size="12.6" fill="#141414" textLength="11.67" lengthAdjust="spacingAndGlyphs">3k</text>
<text x="1088.40" y="611.0" font-size="12.6" fill="#141414" textLength="11.67" lengthAdjust="spacingAndGlyphs">4k</text>
<text x="1132.40" y="611.0" font-size="12.6" fill="#141414" textLength="11.67" lengthAdjust="spacingAndGlyphs">5k</text>
<text x="1169.40" y="611.0" font-size="12.6" fill="#141414" textLength="11.67" lengthAdjust="spacingAndGlyphs">6k</text>
<text x="1199.40" y="611.0" font-size="12.6" fill="#141414" textLength="11.67" lengthAdjust="spacingAndGlyphs">7k</text>
<text x="1226.40" y="611.0" font-size="12.6" fill="#141414" textLength="11.67" lengthAdjust="spacingAndGlyphs">8k</text>
<text x="1249.40" y="611.0" font-size="12.6" fill="#141414" textLength="11.67" lengthAdjust="spacingAndGlyphs">9k</text>
<text x="1266.59" y="611.0" font-size="12.6" fill="#141414" textLength="18.39" lengthAdjust="spacingAndGlyphs">10k</text>
<text x="1295.02" y="610.6" font-size="12.6" fill="#0000ff" textLength="32.59" lengthAdjust="spacingAndGlyphs">11,96k</text>
<text x="1334.12" y="611.0" font-size="12.6" fill="#8c8c8c" textLength="17.85" lengthAdjust="spacingAndGlyphs">14k</text>
<text x="1359.79" y="611.0" font-size="12.6" fill="#8c8c8c" textLength="18.50" lengthAdjust="spacingAndGlyphs">16k</text>
<text x="1397.50" y="611.0" font-size="12.6" fill="#141414" textLength="31.04" lengthAdjust="spacingAndGlyphs">20kHz</text>
<text x="205.69" y="639.0" font-size="12.6" fill="#b00014" textLength="108.57" lengthAdjust="spacingAndGlyphs">1: Target nov. 9 21:11</text>
<text x="467.40" y="639.0" font-size="12.6" fill="#b00014" textLength="37.56" lengthAdjust="spacingAndGlyphs">77,6 dB</text>
<text x="563.50" y="639.0" font-size="12.6" fill="#fa0040" textLength="63.18" lengthAdjust="spacingAndGlyphs">5: C mars 30</text>
<text x="824.40" y="639.0" font-size="12.6" fill="#fa0040" textLength="37.26" lengthAdjust="spacingAndGlyphs">70,8 dB</text>
<text x="920.01" y="639.0" font-size="12.6" fill="#7f00f5" textLength="70.07" lengthAdjust="spacingAndGlyphs">10: C mars 30</text>
<text x="1181.70" y="639.0" font-size="12.6" fill="#7f00f5" textLength="37.16" lengthAdjust="spacingAndGlyphs">72,0 dB</text>
<rect x="186.5" y="627.5" width="13" height="13" rx="3" ry="3" fill="#fff" stroke="#1e8cff" stroke-width="1.2"/><path d="M189.3,634.4 l3.1,3.3 l5.0,-7.0" fill="none" stroke="#0a64dc" stroke-width="1.7" stroke-linecap="round" stroke-linejoin="round"/>
<rect x="543.5" y="627.5" width="13" height="13" rx="3" ry="3" fill="#fff" stroke="#1e8cff" stroke-width="1.2"/><path d="M546.3,634.4 l3.1,3.3 l5.0,-7.0" fill="none" stroke="#0a64dc" stroke-width="1.7" stroke-linecap="round" stroke-linejoin="round"/>
<rect x="900.5" y="627.5" width="13" height="13" rx="3" ry="3" fill="#fff" stroke="#1e8cff" stroke-width="1.2"/><path d="M903.3,634.4 l3.1,3.3 l5.0,-7.0" fill="none" stroke="#0a64dc" stroke-width="1.7" stroke-linecap="round" stroke-linejoin="round"/>
<line x1="370.0" x2="421.0" y1="635" y2="635" stroke="#b00014" stroke-width="2"/><rect x="381.0" y="627" width="29" height="16" rx="4" ry="4" fill="#fff" stroke="#b00014" stroke-width="2"/><text x="386.5" y="637.2" font-size="9.5" fill="#000" text-anchor="middle">1</text><line x1="387.6" y1="641.2" x2="395.8" y2="629" stroke="#000" stroke-width="0.9"/><text x="401.0" y="640.6" font-size="8.6" fill="#000" text-anchor="middle" textLength="9.6" lengthAdjust="spacingAndGlyphs">48</text>
<line x1="727.0" x2="778.0" y1="635" y2="635" stroke="#f5003c" stroke-width="2"/><rect x="738.0" y="627" width="29" height="16" rx="4" ry="4" fill="#fff" stroke="#f5003c" stroke-width="2"/><text x="746.7" y="637.2" font-size="9.5" fill="#000" text-anchor="middle">1</text><line x1="747.6" y1="641.2" x2="755.8" y2="629" stroke="#000" stroke-width="0.9"/><text x="759.2" y="640.6" font-size="8.6" fill="#000" text-anchor="middle">6</text>
<line x1="1084.0" x2="1135.0" y1="635" y2="635" stroke="#6410f0" stroke-width="2"/><rect x="1095.0" y="627" width="29" height="16" rx="4" ry="4" fill="#fff" stroke="#6410f0" stroke-width="2"/><text x="1103.7" y="637.2" font-size="9.5" fill="#000" text-anchor="middle">1</text><line x1="1104.6" y1="641.2" x2="1112.8" y2="629" stroke="#000" stroke-width="0.9"/><text x="1116.2" y="640.6" font-size="8.6" fill="#000" text-anchor="middle">6</text>
</svg></body></html>
